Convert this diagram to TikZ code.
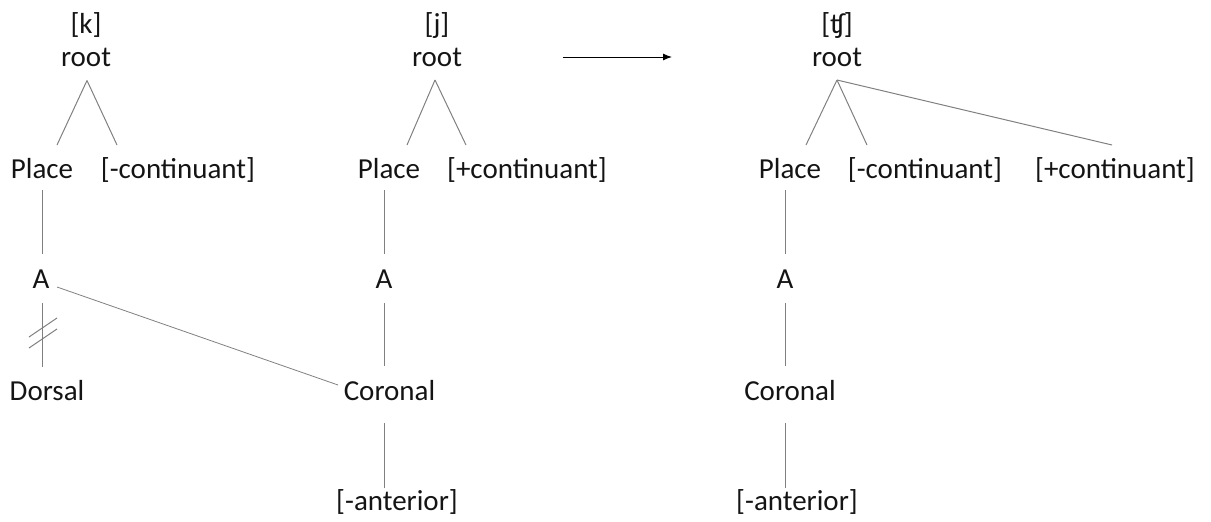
\documentclass[tikz,border=0pt]{standalone}
\usepackage{fontspec}
\setmainfont{Carlito}
\usetikzlibrary{calc,arrows.meta}
\definecolor{ink}{RGB}{20,20,20}
\definecolor{linec}{RGB}{128,128,128}
\begin{document}
\begin{tikzpicture}[x=1pt,y=-1pt,
  lab/.style={anchor=base,inner sep=0pt,font=\fontsize{29}{35}\selectfont,text=ink},
  link/.style={draw=linec,line width=1pt},
  bigarrow/.style={draw=black,line width=1pt,-{Latex[length=9pt,width=7pt]}}
]
\useasboundingbox (0,0) rectangle (1211,522);
% left tree [k]
\node[lab] (kk) at (86,33) {[k]};
\node[lab] (kroot) at (86,66) {root};
\node[lab] (kplace) at (42,178) {Place};
\node[lab] (kcont) at (178,178) {[-continuant]};
\node[lab] (ka) at (41,288) {A};
\node[lab] (kdors) at (47,400) {Dorsal};
% middle tree [j]
\node[lab] (jj) at (437,33) {[j]};
\node[lab] (jroot) at (437,66) {root};
\node[lab] (jplace) at (389,178) {Place};
\node[lab] (jcont) at (527,178) {[+continuant]};
\node[lab] (ja) at (384,288) {A};
\node[lab] (jcor) at (389.5,400) {Coronal};
\node[lab] (jant) at (397,510) {[-anterior]};
% right tree
\node[lab] (tt) at (837,33) {[ʧ]};
\node[lab] (troot) at (837,66) {root};
\node[lab] (tplace) at (790,178) {Place};
\node[lab] (tminus) at (925,178) {[-continuant]};
\node[lab] (tplus) at (1115,178) {[+continuant]};
\node[lab] (ta) at (785,288) {A};
\node[lab] (tcor) at (790,400) {Coronal};
\node[lab] (tant) at (797,510) {[-anterior]};
% arrow
\coordinate (arrS) at (563,57);
\coordinate (arrE) at (672,57);
\draw[bigarrow] (arrS) -- (arrE);
% left connectors
\draw[link] ($(kroot.base)+(1,14.5)$) -- ($(kplace.base)+(15,-33)$);
\draw[link] ($(kroot.base)+(1,14.5)$) -- ($(kcont.base)+(-61,-33)$);
\draw[link] ($(kplace.base)+(0,12)$) -- ($(ka.base)+(1,-34)$);
\draw[link] ($(ka.base)+(1,15)$) -- ($(kdors.base)+(-5,-33)$);
\draw[link] ($(ka.base)+(-12,49)$) -- ($(ka.base)+(16,30)$);
\draw[link] ($(ka.base)+(-12,60)$) -- ($(ka.base)+(16,41)$);
\draw[link,line width=0.8pt] ($(ka.base)+(16,-1)$) -- ($(jcor.base)+(-51.5,-15)$);
% middle connectors
\draw[link] ($(jroot.base)+(-2,14)$) -- ($(jplace.base)+(18,-33)$);
\draw[link] ($(jroot.base)+(-2,14)$) -- ($(jcont.base)+(-61,-33)$);
\draw[link] ($(jplace.base)+(-4.5,12)$) -- ($(ja.base)+(0.5,-34)$);
\draw[link] ($(ja.base)+(0.5,15)$) -- ($(jcor.base)+(-5,-34)$);
\draw[link] ($(jcor.base)+(-5,23)$) -- ($(jant.base)+(-12.5,-22)$);
% right connectors
\draw[link] ($(troot.base)+(0,14)$) -- ($(tplace.base)+(16,-33)$);
\draw[link] ($(troot.base)+(0,14)$) -- ($(tminus.base)+(-58,-33)$);
\draw[link] ($(troot.base)+(0,14)$) -- ($(tplus.base)+(-3,-33)$);
\draw[link] ($(tplace.base)+(-4.5,12)$) -- ($(ta.base)+(0.5,-34)$);
\draw[link] ($(ta.base)+(0.5,15)$) -- ($(tcor.base)+(-4.5,-34)$);
\draw[link] ($(tcor.base)+(-4.5,23)$) -- ($(tant.base)+(-11.5,-22)$);
\end{tikzpicture}
\end{document}
